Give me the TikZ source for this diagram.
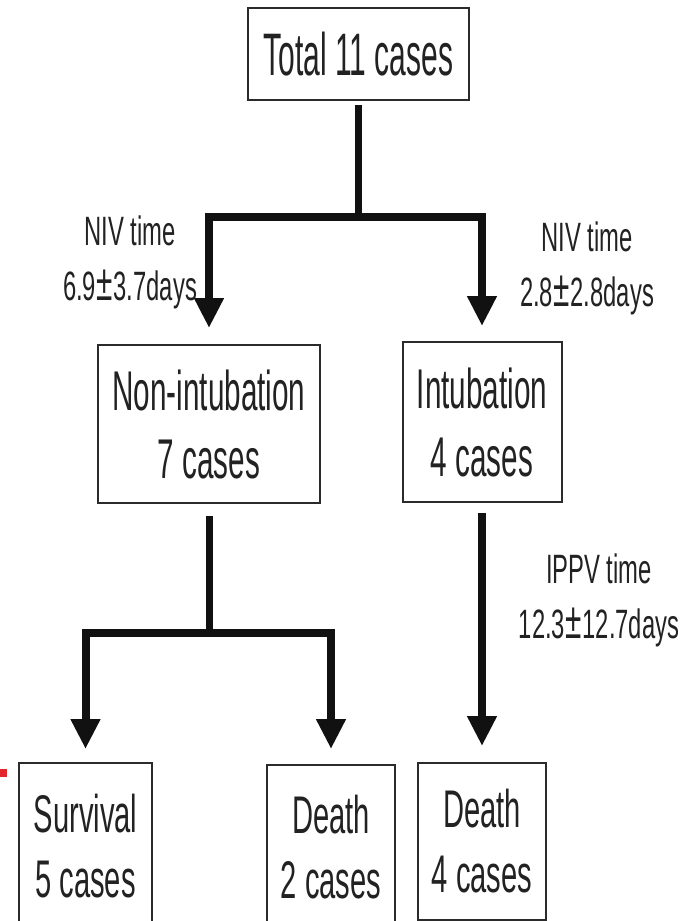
\documentclass[tikz,border=0pt]{standalone}
\usepackage{fontspec}
\setmainfont{Liberation Sans}
\usepackage{graphicx}
\usetikzlibrary{arrows.meta}

\definecolor{boxgray}{HTML}{2B2B2B}
\definecolor{inkblack}{HTML}{222222}
\definecolor{linkblack}{HTML}{111111}
\definecolor{markred}{HTML}{E3262B}

% condensed lettering
\newcommand\cndTop[1]{\scalebox{0.50}[1]{#1}}
\newcommand\cndMid[1]{\scalebox{0.53}[1]{#1}}
\newcommand\cndLow[1]{\scalebox{0.55}[1]{#1}}
\newcommand\cndLbl[1]{\scalebox{0.58}[1]{#1}}
% enlarged plus-minus sign
\newcommand\bigpm{\kern1pt\scalebox{1.25}{±}\kern1pt}

\begin{document}
\begin{tikzpicture}[x=1pt,y=-1pt,
  box/.style={draw=boxgray, line width=2pt, rectangle, inner sep=0pt,
    align=center, text=inkblack},
  topfont/.style={font=\fontsize{60}{72}\selectfont},
  midfont/.style={font=\fontsize{56}{68}\selectfont},
  lowfont/.style={font=\fontsize{53}{65}\selectfont},
  lbl/.style={align=center, inner sep=0pt, text=inkblack,
    font=\fontsize{41}{55}\selectfont},
  stem/.style={draw=linkblack, line width=7pt},
  branch/.style={draw=linkblack, line width=8pt,
    -{Triangle[width=28pt,length=30pt]}},
]
\useasboundingbox (0,0) rectangle (699,921);
\clip (0,0) rectangle (699,921);
\fill[white] (0,0) rectangle (699,921);

% boxes
\node[box, topfont, minimum width=221pt, minimum height=92pt] (total) at (358.5,54)
  {\cndTop{Total 11 cases}};
\node[box, midfont, minimum width=222pt, minimum height=158pt] (nonint) at (209,424)
  {\cndMid{Non-intubation}\\\cndMid{7 cases}};
\node[box, midfont, minimum width=159pt, minimum height=160pt] (intub) at (482,422)
  {\cndMid{Intubation}\\\cndMid{4 cases}};
\node[box, lowfont, minimum width=133pt, minimum height=167pt] (surv) at (85.5,846.5)
  {\cndLow{Survival}\\\cndLow{5 cases}};
\node[box, lowfont, minimum width=128pt, minimum height=165pt] (death2) at (331,847.5)
  {\cndLow{Death}\\\cndLow{2 cases}};
\node[box, lowfont, minimum width=128pt, minimum height=157pt] (death4) at (482,841.5)
  {\cndLow{Death}\\\cndLow{4 cases}};

% duration labels
\node[lbl] (nivL) at (130,262) {\cndLbl{NIV time}\\\cndLbl{6.9\bigpm3.7days}};
\node[lbl] (nivR) at (587,268) {\cndLbl{NIV time}\\\cndLbl{2.8\bigpm2.8days}};
\node[lbl] (ippv) at (599,600) {\cndLbl{IPPV time}\\\cndLbl{12.3\bigpm12.7days}};

% branch points
\coordinate (fork1) at (358.5,217);
\coordinate (fork2) at (209,633);

% connectors
\draw[stem] ([yshift=-4pt]total.south) -- (fork1);
\draw[branch, shorten >=16pt] (fork1) -| (nonint.north);
\draw[branch, shorten >=15pt] (fork1) -| (intub.north);
\draw[stem] ([yshift=-12pt]nonint.south) -- (fork2);
\draw[branch, shorten >=13pt] (fork2) -| (surv.north);
\draw[branch, shorten >=15pt] (fork2) -| (death2.north);
\draw[branch, shorten >=16pt] ([yshift=-10pt]intub.south) -- (death4.north);

% margin mark
\fill[markred] (0,769) rectangle (7,777);
\end{tikzpicture}
\end{document}
